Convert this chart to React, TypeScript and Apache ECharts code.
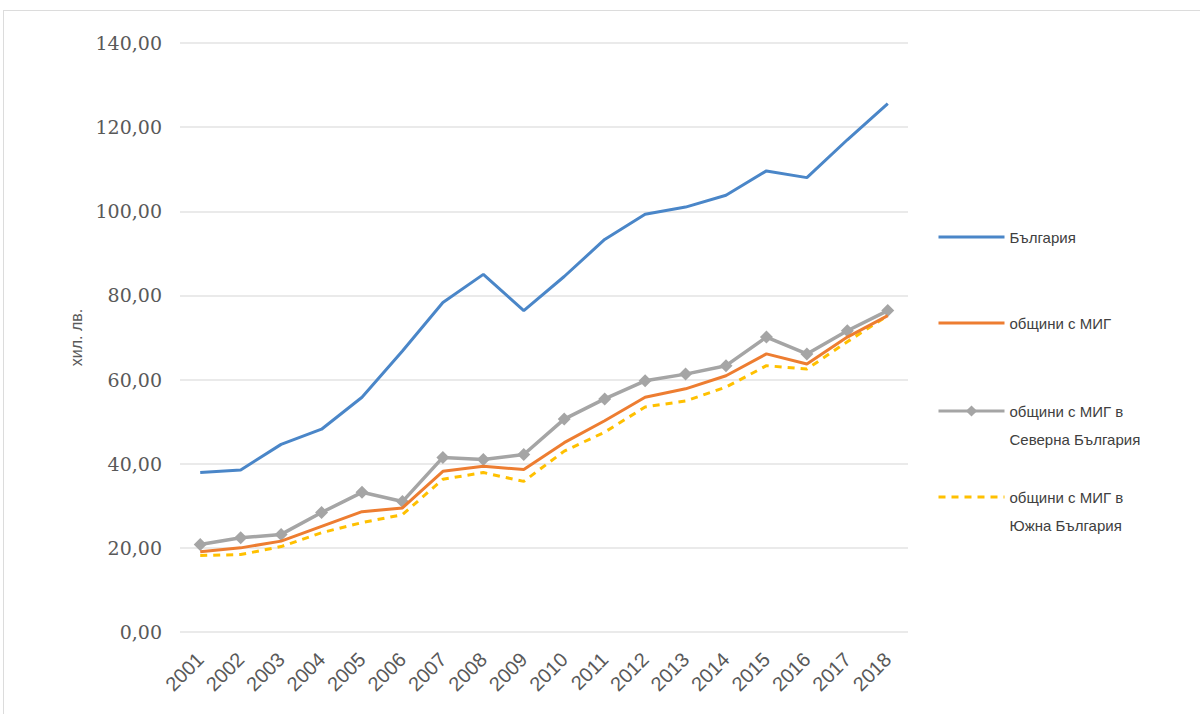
import React, { useEffect, useRef } from "react";
import * as echarts from "echarts";

const years = ["2001","2002","2003","2004","2005","2006","2007","2008","2009","2010","2011","2012","2013","2014","2015","2016","2017","2018"];
const bulgaria = [37.9, 38.5, 44.6, 48.2, 55.8, 66.8, 78.3, 85.0, 76.4, 84.5, 93.3, 99.3, 101.0, 103.8, 109.6, 108.0, 117.0, 125.6];
const migAll = [19.1, 20.0, 21.6, 25.1, 28.6, 29.5, 38.2, 39.4, 38.6, 45.0, 50.2, 55.8, 57.8, 60.9, 66.1, 63.7, 70.1, 75.2];
const migNorth = [20.8, 22.4, 23.2, 28.4, 33.2, 31.0, 41.5, 41.0, 42.2, 50.6, 55.4, 59.7, 61.3, 63.3, 70.1, 66.1, 71.6, 76.4];
const migSouth = [18.2, 18.4, 20.3, 23.6, 26.0, 27.9, 36.3, 37.9, 35.8, 43.0, 47.5, 53.5, 54.9, 58.2, 63.3, 62.5, 69.0, 75.2];
const seriesNames = [
  "България",
  "общини с МИГ",
  "общини с МИГ в\nСеверна България",
  "общини с МИГ в\nЮжна България",
];
const colors = ["#4a86c8", "#ed7d31", "#a5a5a5", "#ffc000"];

export default function App() {
  const ref = useRef<HTMLDivElement>(null);
  useEffect(() => {
    if (!ref.current) return;
    const chart = echarts.init(ref.current, null, { renderer: "svg" });
    const legendFont = {
      fontFamily: "Liberation Sans, sans-serif",
      fontSize: 15,
      color: "#404040",
      lineHeight: 28,
    };
    const mkLegend = (name: string, top: number, multi: boolean, marker: boolean) => ({
      left: 932,
      top,
      orient: "vertical",
      itemWidth: 66,
      itemHeight: 14,
      itemGap: 0,
      selectedMode: false,
      formatter: multi ? (n: string) => "\n" + n : undefined,
      lineStyle: { width: 3 },
      data: [
        {
          name,
          itemStyle: marker ? undefined : { opacity: 0 },
        },
      ],
      textStyle: legendFont,
    });
    chart.setOption({
      animation: false,
      color: colors,
      grid: { left: 180, right: 292, top: 43, bottom: 82 },
      legend: [
        mkLegend(seriesNames[0], 218, false, false),
        mkLegend(seriesNames[1], 304, false, false),
        mkLegend(seriesNames[2], 364, true, true),
        mkLegend(seriesNames[3], 450, true, false),
      ],
      xAxis: {
        type: "category",
        data: years,
        boundaryGap: true,
        axisLine: { show: false },
        axisTick: { show: false },
        axisLabel: {
          rotate: 45,
          interval: 0,
          margin: 24,
          fontFamily: "Liberation Sans, sans-serif",
          fontSize: 20,
          color: "#595959",
        },
      },
      yAxis: {
        type: "value",
        min: 0,
        max: 140,
        interval: 20,
        name: "хил. лв.",
        nameLocation: "middle",
        nameGap: 92,
        nameTextStyle: {
          fontFamily: "Liberation Sans, sans-serif",
          fontSize: 16,
          color: "#595959",
        },
        axisLine: { show: false },
        axisTick: { show: false },
        axisLabel: {
          margin: 18,
          fontFamily: "DejaVu Serif, serif",
          fontSize: 19,
          color: "#595959",
          formatter: (v: number) => v.toFixed(2).replace(".", ","),
        },
        splitLine: { lineStyle: { color: "#e3e3e3", width: 1.5 } },
      },
      series: [
        {
          name: seriesNames[0],
          type: "line",
          data: bulgaria,
          symbol: "none",
          lineStyle: { width: 3, color: colors[0] },
          itemStyle: { color: colors[0] },
        },
        {
          name: seriesNames[1],
          type: "line",
          data: migAll,
          symbol: "none",
          lineStyle: { width: 3, color: colors[1] },
          itemStyle: { color: colors[1] },
          z: 4,
        },
        {
          name: seriesNames[2],
          type: "line",
          data: migNorth,
          symbol: "diamond",
          symbolSize: 13,
          lineStyle: { width: 3.5, color: colors[2] },
          itemStyle: { color: colors[2] },
          z: 3,
        },
        {
          name: seriesNames[3],
          type: "line",
          data: migSouth,
          symbol: "none",
          lineStyle: { width: 3, color: colors[3], type: [7, 6] },
          itemStyle: { color: colors[3] },
          z: 2,
        },
      ],
    });
    return () => chart.dispose();
  }, []);
  return (
    <div
      style={{
        position: "absolute",
        left: 0,
        top: 0,
        width: 1200,
        height: 714,
        background: "#fff",
      }}
    >
      <div
        style={{
          position: "absolute",
          left: 3,
          top: 10,
          width: 1197,
          height: 704,
          borderLeft: "1px solid #dcdcdc",
          borderTop: "1px solid #dcdcdc",
          boxSizing: "border-box",
        }}
      />
      <div ref={ref} style={{ position: "absolute", left: 0, top: 0, width: 1200, height: 714 }} />
    </div>
  );
}
